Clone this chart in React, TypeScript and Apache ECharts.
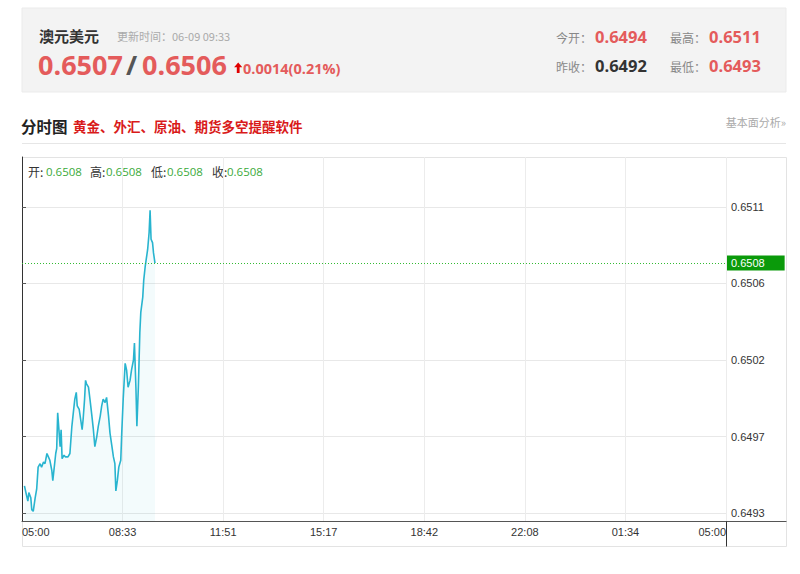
import React, { useEffect, useRef } from "react";
import * as echarts from "echarts";

// minutes after 05:00 and price values (AUD/USD intraday)
const minutes = [5,8,12,14,18,20,23,27,30,33,37,40,44,47,51,54,57,61,63,66,69,71,73,76,78,80,82,86,89,94,98,102,105,108,111,113,117,120,123,125,128,130,132,136,139,143,146,149,153,156,160,163,166,170,173,177,180,184,187,190,192,195,198,202,204,207,211,214,217,221,224,228,230,233,235,238,241,243,247,249,252,254,257,260,262,264,267,269,272];
const prices = [0.64946,0.64942,0.64937,0.64942,0.64939,0.64932,0.64931,0.64939,0.64944,0.64957,0.64959,0.64957,0.64960,0.64959,0.64965,0.64963,0.64961,0.64955,0.64949,0.64957,0.64965,0.64968,0.64989,0.64977,0.64969,0.64979,0.64962,0.64964,0.64963,0.64963,0.64965,0.64981,0.64989,0.64997,0.65001,0.64993,0.64991,0.64985,0.64979,0.64985,0.64997,0.65008,0.65006,0.65004,0.64997,0.64987,0.64979,0.64969,0.64975,0.64981,0.64987,0.64993,0.64997,0.64995,0.64998,0.64987,0.64977,0.64969,0.64963,0.64959,0.64943,0.64949,0.64957,0.64961,0.64977,0.64997,0.65018,0.65014,0.65004,0.65008,0.65014,0.65020,0.65030,0.65004,0.64981,0.65004,0.65036,0.65048,0.65057,0.65067,0.65075,0.65079,0.65085,0.65095,0.65108,0.65091,0.65089,0.65083,0.65077];

const xTickValues = [0, 205.71, 411.43, 617.14, 822.86, 1028.57, 1234.29, 1440];
const xTickLabels = ["05:00", "08:33", "11:51", "15:17", "18:42", "22:08", "01:34", "05:00"];
const yTickValues = [0.6493, 0.64975, 0.6502, 0.65065, 0.6511];
const yTickLabels = ["0.6493", "0.6497", "0.6502", "0.6506", "0.6511"];
const yMin = 0.649253;
const yMax = 0.651394;

const headerName = "澳元美元";
const updateTime = "更新时间：06-09 09:33";
const bidAsk = ["0.6507", "0.6506"];
const change = "0.0014(0.21%)";
const stats = { open: "0.6494", high: "0.6511", prevClose: "0.6492", low: "0.6493" };
const ohlc = ["0.6508", "0.6508", "0.6508", "0.6508"];

const CJK = '"Noto Sans CJK SC", "Microsoft YaHei", sans-serif';
const NUM = '"Open Sans", "Noto Sans", sans-serif';
const RED = "#e45b5b";
const GREEN = "#3aaa3a";
const MARK_GREEN = "#33bb33";

function txt(x: number, y: number, text: string, fill: string, font: string, align = "left") {
  return { type: "text", x, y, silent: true, style: { text, fill, font, align, verticalAlign: "middle" } };
}

export default function App() {
  const ref = useRef<HTMLDivElement>(null);
  useEffect(() => {
    const chart = echarts.init(ref.current!, null, { renderer: "svg" });
    const data = minutes.map((m, i) => [m, prices[i]]);
    const last = prices[prices.length - 1];
    const option: any = {
      animation: false,
      backgroundColor: "#fff",
      grid: { left: 22, right: 74, top: 157, bottom: 53, containLabel: false },
      xAxis: {
        type: "value",
        min: 0,
        max: 1440,
        axisLine: { show: true, lineStyle: { color: "#555", width: 1 } },
        axisTick: { show: false, customValues: xTickValues },
        axisLabel: {
          customValues: xTickValues,
          color: "#333",
          fontSize: 11,
          fontFamily: '"Liberation Sans", Arial, sans-serif',
          margin: 5,
          alignMinLabel: "left",
          alignMaxLabel: "right",
          formatter: (v: number) => {
            let best = 0;
            xTickValues.forEach((t, i) => { if (Math.abs(t - v) < Math.abs(xTickValues[best] - v)) best = i; });
            return xTickLabels[best];
          },
        },
        splitLine: { show: true, lineStyle: { color: "#ececec", width: 1 } },
      },
      yAxis: {
        type: "value",
        position: "right",
        min: yMin,
        max: yMax,
        axisLine: { show: true, lineStyle: { color: "#333", width: 1 } },
        axisTick: { show: true, length: 4, customValues: yTickValues, lineStyle: { color: "#555" } },
        axisLabel: {
          customValues: yTickValues,
          color: "#333",
          fontSize: 11,
          fontFamily: '"Liberation Sans", Arial, sans-serif',
          margin: 5,
          formatter: (v: number) => {
            let best = 0;
            yTickValues.forEach((t, i) => { if (Math.abs(t - v) < Math.abs(yTickValues[best] - v)) best = i; });
            return yTickLabels[best];
          },
        },
        splitLine: { show: true, lineStyle: { color: "#e8e8e8", width: 1 } },
      },
      series: [
        {
          type: "line",
          data,
          showSymbol: false,
          symbol: "none",
          lineStyle: { color: "#28b4cf", width: 1.6 },
          itemStyle: { color: "#28b4cf" },
          areaStyle: { color: "rgba(40,180,207,0.08)", origin: "start" },
          markLine: {
            silent: true,
            precision: 6,
            symbol: ["none", "none"],
            data: [{ yAxis: last }],
            lineStyle: { color: MARK_GREEN, type: [1, 2], width: 1, opacity: 1 },
            label: {
              position: "end",
              distance: 1,
              formatter: () => last.toFixed(4),
              color: "#fff",
              fontSize: 11,
              fontFamily: '"Liberation Sans", Arial, sans-serif',
              backgroundColor: "#0a9a0a",
              padding: [2, 20, 2, 4],
            },
          },
        },
      ],
      graphic: [
        // header box
        { type: "rect", silent: true, shape: { x: 22, y: 8, width: 764, height: 84 }, style: { fill: "#f3f3f3", stroke: "#ebebeb", lineWidth: 1 } },
        txt(39, 35.5, headerName, "#333", `bold 15px ${CJK}`),
        txt(117, 35.5, updateTime, "#aaa", `11px ${CJK}`),
        txt(38, 64.5, bidAsk[0], RED, `bold 27px ${NUM}`),
        txt(126, 64.5, "/", "#555", `bold 27px ${NUM}`),
        txt(142, 64.5, bidAsk[1], RED, `bold 27px ${NUM}`),
        {
          type: "polygon", silent: true,
          shape: { points: [[238.2, 62.5], [242.3, 67.3], [239.6, 67.3], [239.6, 73], [236.8, 73], [236.8, 67.3], [234.1, 67.3]] },
          style: { fill: "#e00000" },
        },
        txt(243, 68, change, RED, `bold 14.5px ${NUM}`),
        txt(556, 37, "今开：", "#888", `12px ${CJK}`),
        txt(595, 36.5, stats.open, RED, `bold 16.5px ${NUM}`),
        txt(670, 37, "最高：", "#888", `12px ${CJK}`),
        txt(709, 36.5, stats.high, RED, `bold 16.5px ${NUM}`),
        txt(556, 66, "昨收：", "#888", `12px ${CJK}`),
        txt(595, 65.5, stats.prevClose, "#333", `bold 16.5px ${NUM}`),
        txt(670, 66, "最低：", "#888", `12px ${CJK}`),
        txt(709, 65.5, stats.low, RED, `bold 16.5px ${NUM}`),
        // title row
        txt(21, 125.5, "分时图", "#222", `bold 15.5px ${CJK}`),
        txt(73, 125.5, "黄金、外汇、原油、期货多空提醒软件", "#d91a1a", `bold 13.5px ${CJK}`),
        txt(786, 122, "基本面分析»", "#aaa", `11px ${CJK}`, "right"),
        { type: "line", silent: true, shape: { x1: 22, y1: 143.5, x2: 786, y2: 143.5 }, style: { stroke: "#e6e6e6", lineWidth: 1 } },
        // chart box
        { type: "rect", silent: true, z: -1, shape: { x: 22.5, y: 157.5, width: 764, height: 389 }, style: { fill: "none", stroke: "#e3e3e3", lineWidth: 1 } },
        { type: "line", silent: true, shape: { x1: 726, y1: 521.5, x2: 786.5, y2: 521.5 }, style: { stroke: "#555", lineWidth: 1 } },
        { type: "line", silent: true, shape: { x1: 726.5, y1: 521, x2: 726.5, y2: 546.5 }, style: { stroke: "#333", lineWidth: 1 } },
        // OHLC
        txt(28, 171, "开:", "#333", `12px ${CJK}`),
        txt(46, 171, ohlc[0], GREEN, `11.5px ${NUM}`),
        txt(90, 171, "高:", "#333", `12px ${CJK}`),
        txt(106, 171, ohlc[1], GREEN, `11.5px ${NUM}`),
        txt(151, 171, "低:", "#333", `12px ${CJK}`),
        txt(167, 171, ohlc[2], GREEN, `11.5px ${NUM}`),
        txt(212, 171, "收:", "#333", `12px ${CJK}`),
        txt(227, 171, ohlc[3], GREEN, `11.5px ${NUM}`),
      ],
    };
    chart.setOption(option);
    return () => chart.dispose();
  }, []);
  return (
    <div
      ref={ref}
      style={{ position: "fixed", left: 0, top: 0, width: 800, height: 574, background: "#fff" }}
    />
  );
}
